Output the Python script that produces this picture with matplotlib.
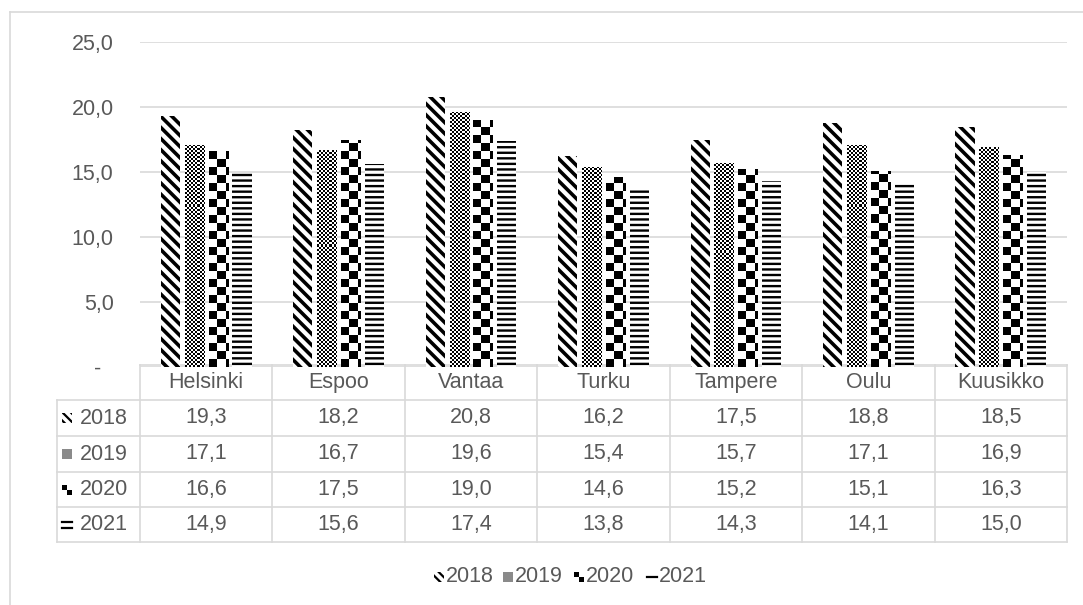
import numpy as np
import matplotlib
matplotlib.use("Agg")
import matplotlib.pyplot as plt
from matplotlib.patches import Rectangle
from matplotlib.lines import Line2D
from matplotlib.transforms import blended_transform_factory

cities = ["Helsinki", "Espoo", "Vantaa", "Turku", "Tampere", "Oulu", "Kuusikko"]
years = ["2018", "2019", "2020", "2021"]
v2018 = [19.3, 18.2, 20.8, 16.2, 17.5, 18.8, 18.5]
v2019 = [17.1, 16.7, 19.6, 15.4, 15.7, 17.1, 16.9]
v2020 = [16.6, 17.5, 19.0, 14.6, 15.2, 15.1, 16.3]
v2021 = [14.9, 15.6, 17.4, 13.8, 14.3, 14.1, 15.0]
series = [v2018, v2019, v2020, v2021]
yticks = [0, 5, 10, 15, 20, 25]

W, H = 1083, 605
GRID = "#d9d9d9"
TXT = "#595959"
FS = 15.5
plt.rcParams["font.family"] = ["Liberation Sans", "DejaVu Sans"]

fig = plt.figure(figsize=(W / 100, H / 100), dpi=100)


def fx(p):
    return p / W


def fy(p):
    return 1 - p / H


# plot area in pixels
L, R, T, B = 140, 1067, 42, 367
ax = fig.add_axes([fx(L), fy(B), fx(R - L), (B - T) / H])
ax.set_zorder(2)

n = len(cities)
x = np.arange(n)
bw = 0.145
step = 0.18
px_x = (R - L) / n      # pixels per category
px_y = (B - T) / 25     # pixels per unit


def checker(bar, cell_px):
    x0 = bar.get_x()
    h = bar.get_height()
    cw = cell_px / px_x
    ch = cell_px / px_y
    cols = int(np.ceil(bar.get_width() / cw))
    rows = int(np.ceil(h / ch))
    img = (np.add.outer(np.arange(rows), np.arange(cols)) % 2).astype(float)
    im = ax.imshow(img, cmap="gray", vmin=0, vmax=1, origin="lower",
                   extent=[x0, x0 + cols * cw, 0, rows * ch],
                   interpolation="nearest", aspect="auto", zorder=3)
    im.set_clip_path(bar)


hatches = ["\\\\\\", None, None, "---"]
hatch_lw = [2.6, 1.0, 1.0, 1.7]
for k, vals in enumerate(series):
    plt.rcParams["hatch.linewidth"] = hatch_lw[k]
    bars = ax.bar(x + (k - 1.5) * step, vals, width=bw, facecolor="white",
                  edgecolor="black", linewidth=0, hatch=hatches[k], zorder=2)
    for b in bars:
        if hasattr(b, "set_hatch_linewidth"):
            b.set_hatch_linewidth(hatch_lw[k])
        if k == 1:
            checker(b, 2)
        elif k == 2:
            checker(b, 8)

ax.set_xlim(-0.5, n - 0.5)
ax.set_ylim(0, 25)
ax.set_yticks(yticks)
ax.set_yticklabels(["-  " if t == 0 else f"{t:.1f}".replace(".", ",") for t in yticks])
ax.tick_params(axis="y", length=0, pad=19, labelsize=FS, labelcolor=TXT)
ax.set_xticks([])
ax.grid(axis="y", color=GRID, linewidth=1.2, zorder=0)
ax.set_axisbelow(True)
for s in ax.spines.values():
    s.set_visible(False)
ax.patch.set_alpha(0)

# outer chart border
fig.add_artist(Line2D([fx(10), fx(10)], [0, fy(12)], color=GRID, lw=1.2))
fig.add_artist(Line2D([fx(10), 1], [fy(12), fy(12)], color=GRID, lw=1.2))

# data table
rows = [365, 400, 436, 472, 507, 542]
LBL = 57
tr = blended_transform_factory(ax.transData, fig.transFigure)
for i in range(n + 1):
    fig.add_artist(Line2D([i - 0.5, i - 0.5], [fy(rows[0]), fy(rows[-1])],
                          transform=tr, color=GRID, lw=1.2))
fig.add_artist(Line2D([fx(LBL), fx(LBL)], [fy(rows[1]), fy(rows[-1])], color=GRID, lw=1.2))
fig.add_artist(Line2D([fx(L), fx(R)], [fy(rows[0]), fy(rows[0])], color=GRID, lw=1.2))
for r in rows[1:]:
    fig.add_artist(Line2D([fx(LBL), fx(R)], [fy(r), fy(r)], color=GRID, lw=1.2))

for i, c in enumerate(cities):
    fig.text(i, fy((rows[0] + rows[1]) / 2), c, transform=tr, ha="center", va="center",
             fontsize=FS, color=TXT)
for k, vals in enumerate(series):
    yc = fy((rows[k + 1] + rows[k + 2]) / 2)
    for i, v in enumerate(vals):
        fig.text(i, yc, f"{v:.1f}".replace(".", ","), transform=tr, ha="center",
                 va="center", fontsize=FS, color=TXT)


def symbol(k, px, pyc, legend=False):
    s = 10
    x0, y0 = fx(px), fy(pyc + s / 2)
    w, h = s / W, s / H
    if k == 0:
        plt.rcParams["hatch.linewidth"] = 1.6
        p = Rectangle((x0, y0), w, h, transform=fig.transFigure, facecolor="white",
                      edgecolor="black", linewidth=0, hatch="\\\\\\\\")
        fig.add_artist(p)
    elif k == 1:
        fig.add_artist(Rectangle((x0, y0), w, h, transform=fig.transFigure,
                                 facecolor="#8a8a8a", linewidth=0))
    elif k == 2:
        fig.add_artist(Rectangle((x0, y0 + h / 2), w / 2, h / 2, transform=fig.transFigure,
                                 facecolor="black", linewidth=0))
        fig.add_artist(Rectangle((x0 + w / 2, y0), w / 2, h / 2, transform=fig.transFigure,
                                 facecolor="black", linewidth=0))
    else:
        ys = [pyc] if legend else [pyc - 3, pyc + 3]
        for yy in ys:
            fig.add_artist(Line2D([x0, x0 + w], [fy(yy), fy(yy)], color="black", lw=1.6))


for k, yr in enumerate(years):
    yc = (rows[k + 1] + rows[k + 2]) / 2
    symbol(k, 62, yc)
    fig.text(fx(80), fy(yc), yr, ha="left", va="center", fontsize=FS, color=TXT)

# legend
leg_x = [434, 503, 574, 647]
for k, yr in enumerate(years):
    symbol(k, leg_x[k], 577, legend=True)
    fig.text(fx(leg_x[k] + 12), fy(577), yr, ha="left", va="center", fontsize=FS, color=TXT)

fig.savefig("out.png", dpi=100)
